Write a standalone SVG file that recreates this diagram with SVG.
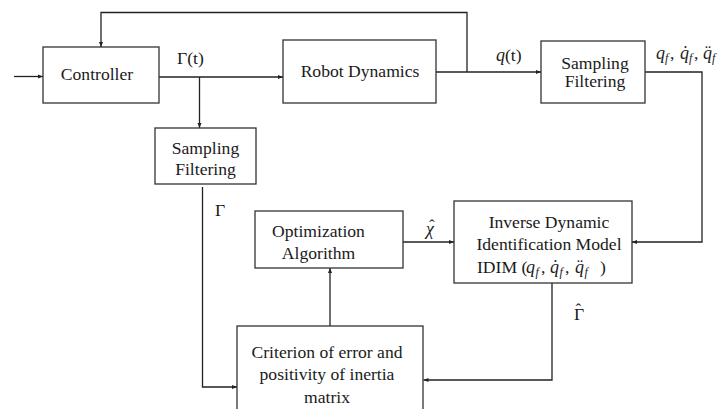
<svg xmlns="http://www.w3.org/2000/svg" width="724" height="409" viewBox="0 0 724 409">
<style>
  .box { fill: #ffffff; stroke: #333333; stroke-width: 1.3; }
  .lbl { font-family: "Liberation Serif", "Times New Roman", serif; font-size: 17.6px; fill: #1a1a1a; text-anchor: middle; }
  .m { font-family: "Liberation Serif", "Times New Roman", serif; font-size: 17.6px; fill: #1a1a1a; }
  .mi { font-family: "Liberation Serif", "Times New Roman", serif; font-size: 18px; font-style: italic; fill: #1a1a1a; }
  .sub { font-family: "Liberation Serif", "Times New Roman", serif; font-size: 12px; font-style: italic; fill: #1a1a1a; }
  .hat { font-size: 16px; font-style: normal; }
  .wire { fill: none; stroke: #222222; stroke-width: 1.3; }
</style>
<defs>
  <marker id="arr" viewBox="0 0 10 10" refX="10" refY="5" markerWidth="5" markerHeight="5" orient="auto" markerUnits="userSpaceOnUse">
    <path d="M0,1 L10,5 L0,9 Z" fill="#222222"/>
  </marker>
</defs>
<rect width="724" height="409" fill="#ffffff"/>

<g id="connectors">
  <path class="wire" d="M14,76.5 H43" marker-end="url(#arr)"/>
  <path class="wire" d="M467,72 V12.5 H101 V47" marker-end="url(#arr)"/>
  <path class="wire" d="M159,77 H283" marker-end="url(#arr)"/>
  <path class="wire" d="M199.5,77 V128" marker-end="url(#arr)"/>
  <path class="wire" d="M436,72 H541" marker-end="url(#arr)"/>
  <path class="wire" d="M645,72 H702 V242 H632" marker-end="url(#arr)"/>
  <path class="wire" d="M403,242 H454" marker-end="url(#arr)"/>
  <path class="wire" d="M552,283 V380 H423.5" marker-end="url(#arr)"/>
  <path class="wire" d="M202.5,187 V387 H237" marker-end="url(#arr)"/>
  <path class="wire" d="M330,326 V268" marker-end="url(#arr)"/>
</g>

<g id="controller">
  <rect class="box" x="43" y="47" width="116" height="56"/>
  <text class="lbl" x="97" y="79.5">Controller</text>
</g>

<g id="robot-dynamics">
  <rect class="box" x="283" y="40" width="153" height="63"/>
  <text class="lbl" x="360" y="77">Robot Dynamics</text>
</g>

<g id="sampling-filtering-q">
  <rect class="box" x="541" y="41" width="104" height="62"/>
  <text class="lbl" x="595" y="68.5">Sampling</text>
  <text class="lbl" x="595" y="87">Filtering</text>
</g>

<g id="sampling-filtering-gamma">
  <rect class="box" x="155" y="128" width="101" height="56"/>
  <text class="lbl" x="205.5" y="153.5">Sampling</text>
  <text class="lbl" x="205.5" y="175">Filtering</text>
</g>

<g id="idim">
  <rect class="box" x="454" y="201" width="178" height="82"/>
  <text class="lbl" x="549" y="227.5">Inverse Dynamic</text>
  <text class="lbl" x="549" y="250">Identification Model</text>
  <text class="m" x="477" y="272.5">IDIM (</text>
  <text class="mi" x="526" y="272.5">q</text>
  <text class="sub" x="535.5" y="275.5">f</text>
  <text class="m" x="541" y="272.5">,</text>
  <text class="mi" x="550" y="272.5">q̇</text>
  <text class="sub" x="559.5" y="275.5">f</text>
  <text class="m" x="565" y="272.5">,</text>
  <text class="mi" x="575" y="272.5">q̈</text>
  <text class="sub" x="584.5" y="275.5">f</text>
  <text class="m" x="600" y="272.5">)</text>
</g>

<g id="optimization">
  <rect class="box" x="255" y="211" width="148" height="57"/>
  <text class="lbl" x="318.5" y="237">Optimization</text>
  <text class="lbl" x="318.5" y="258.5">Algorithm</text>
</g>

<g id="criterion">
  <rect class="box" x="237" y="326" width="186" height="90"/>
  <text class="lbl" x="327" y="357.5">Criterion of error and</text>
  <text class="lbl" x="327" y="380">positivity of inertia</text>
  <text class="lbl" x="327" y="402.5">matrix</text>
</g>

<g id="labels">
  <text class="m" x="177" y="63.5">Γ(t)</text>
  <text class="mi" x="496" y="61">q</text>
  <text class="m" x="505" y="61">(t)</text>
  <text class="mi" x="656" y="59">q</text>
  <text class="sub" x="665" y="62">f</text>
  <text class="m" x="670" y="59">,</text>
  <text class="mi" x="680" y="59">q̇</text>
  <text class="sub" x="689" y="62">f</text>
  <text class="m" x="694" y="59">,</text>
  <text class="mi" x="703" y="59">q̈</text>
  <text class="sub" x="712" y="62">f</text>
  <text class="mi" x="426" y="235">χ<tspan class="hat" dx="-4.7" dy="-4">ˆ</tspan></text>
  <text class="m" x="574" y="319.5">Γ<tspan class="hat" dx="-8.4" dy="-4.5">ˆ</tspan></text>
  <text class="m" x="215" y="216">Γ</text>
</g>
</svg>
